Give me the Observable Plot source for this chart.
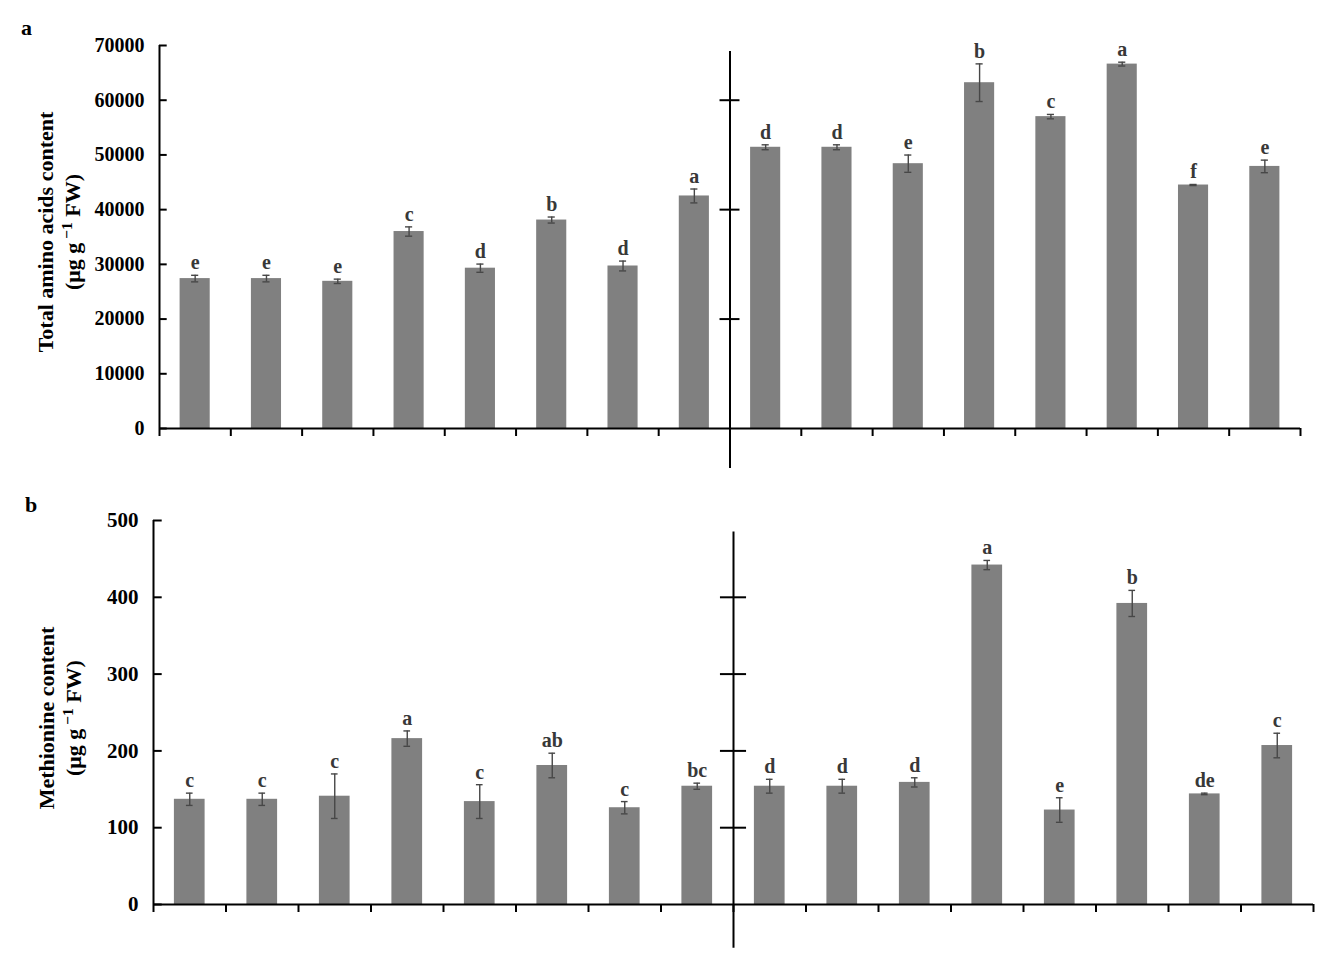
<!DOCTYPE html>
<html><head><meta charset="utf-8">
<script src="https://cdn.jsdelivr.net/npm/d3@7"></script>
<script src="https://cdn.jsdelivr.net/npm/@observablehq/plot@0.6"></script>
<style>
html,body{margin:0;padding:0;background:#fff;}
#wrap{position:relative;width:1326px;height:961px;font-family:"Liberation Serif","Times New Roman",serif;color:#000;}
.panel{position:absolute;left:0;}
.panel svg{display:block;overflow:visible;}
.plabel{position:absolute;font-weight:bold;font-size:22px;line-height:1;}
.ytitle{position:absolute;font-weight:bold;font-size:22px;line-height:27px;text-align:center;white-space:nowrap;transform:translate(-50%,-50%) rotate(-90deg);}
.ytitle sup{font-size:0.7em;line-height:0;vertical-align:0.5em;}
</style></head><body>
<div id="wrap">
  <div id="pa" class="panel" style="top:0"></div>
  <div id="pb" class="panel" style="top:470px"></div>
  <div class="plabel" style="left:21px;top:17px">a</div>
  <div class="plabel" style="left:25px;top:494px">b</div>
  <div class="ytitle" style="left:59px;top:232px">Total amino acids content<br>(μg g<sup> −1</sup> FW)</div>
  <div class="ytitle" style="left:60px;top:718px">Methionine content<br>(μg g<sup> −1</sup> FW)</div>
</div>
<script>
// ---- Data ----
const groupSize = 8;               // two groups of 8 treatments
const totalAA = [27400, 27400, 26900, 36000, 29300, 38100, 29700, 42500,
                 51400, 51400, 48400, 63200, 57000, 66600, 44500, 47900];
const totalAAErr = [600, 600, 400, 850, 750, 550, 900, 1270,
                    450, 450, 1580, 3440, 400, 350, 100, 1150];
const totalAALetters = ["e","e","e","c","d","b","d","a",
                        "d","d","e","b","c","a","f","e"];
const totalAATicks = [0, 10000, 20000, 30000, 40000, 50000, 60000, 70000];
const totalAABreakTicks = [20000, 40000, 60000];

const methionine = [137, 137, 141, 216, 134, 181, 126, 154,
                    154, 154, 159, 442, 123, 392, 144, 207];
const methionineErr = [8, 8, 29, 10, 22, 16, 8, 4,
                       9, 9, 6, 6, 16, 17, 1, 16];
const methionineLetters = ["c","c","c","a","c","ab","c","bc",
                           "d","d","d","a","e","b","de","c"];
const methionineTicks = [0, 100, 200, 300, 400, 500];
const methionineBreakTicks = [100, 200, 300, 400];

function panel(o) {
  const n = o.values.length;
  const rows = o.values.map((v, i) => ({
    pos: i, v, top: v + o.errs[i], low: v - o.errs[i], letter: o.letters[i]
  }));
  const font = {fontFamily: '"Liberation Serif","Times New Roman",serif', fontWeight: "bold"};
  return Plot.plot({
    width: 1326, height: o.height,
    marginTop: o.marginTop, marginBottom: o.marginBottom,
    marginLeft: o.marginLeft, marginRight: o.marginRight,
    x: {domain: [0, n]},
    y: {domain: [0, d3.max(o.yTicks)]},
    style: {fontFamily: font.fontFamily, fontWeight: "bold", fontSize: o.tickFont + "px", color: "#000", background: "transparent", overflow: "visible"},
    marks: [
      Plot.rect(rows, {x1: "pos", x2: d => d.pos + 1, y1: 0, y2: "v", fill: "#808080", insetLeft: o.inset, insetRight: o.inset}),
      Plot.ruleX(rows, {x: d => d.pos + 0.5, y1: "low", y2: "top", stroke: "#474747", strokeWidth: 1.4}),
      Plot.ruleY(rows, {x1: d => d.pos + 0.5 - o.cap, x2: d => d.pos + 0.5 + o.cap, y: "top", stroke: "#474747", strokeWidth: 1.4}),
      Plot.ruleY(rows, {x1: d => d.pos + 0.5 - o.cap, x2: d => d.pos + 0.5 + o.cap, y: "low", stroke: "#474747", strokeWidth: 1.4}),
      Plot.text(rows, {x: d => d.pos + 0.5, y: "top", text: "letter", dy: -6, lineAnchor: "bottom", fontSize: 20, ...font, fill: "#383838"}),
      Plot.axisY({ticks: o.yTicks, tickSize: 0, tickPadding: 15, tickFormat: d3.format("d"), label: null, fontSize: o.tickFont, ...font, fill: "#000"}),
      Plot.axisX({ticks: d3.range(n + 1), tickSize: 8, tickFormat: () => "", label: null, strokeWidth: 2, stroke: "#000"}),
      Plot.ruleY(o.yTicks, {x1: 0, x2: o.inTick, strokeWidth: 2, stroke: "#000"}),
      Plot.ruleX([0], {y1: 0, y2: d3.max(o.yTicks), strokeWidth: 2, stroke: "#000"}),
      Plot.ruleY([0], {x1: 0, x2: n, strokeWidth: 2, stroke: "#000"}),
      Plot.ruleX([groupSize], {y1: o.divBottom, y2: o.divTop, strokeWidth: 2, stroke: "#000"}),
      Plot.ruleY(o.breakTicks, {x1: groupSize - o.divTick, x2: groupSize + o.divTick, strokeWidth: 2, stroke: "#000"})
    ]
  });
}

document.getElementById("pa").appendChild(panel({
  values: totalAA, errs: totalAAErr, letters: totalAALetters,
  yTicks: totalAATicks, breakTicks: totalAABreakTicks,
  height: 470, marginTop: 45, marginBottom: 42, marginLeft: 159, marginRight: 26,
  inset: 20.6, cap: 0.05, inTick: 0.108, divTick: 0.14, divTop: 68900, divBottom: -7300, tickFont: 20
}));
document.getElementById("pb").appendChild(panel({
  values: methionine, errs: methionineErr, letters: methionineLetters,
  yTicks: methionineTicks, breakTicks: methionineBreakTicks,
  height: 491, marginTop: 50, marginBottom: 57, marginLeft: 153, marginRight: 13,
  inset: 20.9, cap: 0.046, inTick: 0.12, divTick: 0.18, divTop: 485, divBottom: -57, tickFont: 21
}));
</script>
</body></html>
